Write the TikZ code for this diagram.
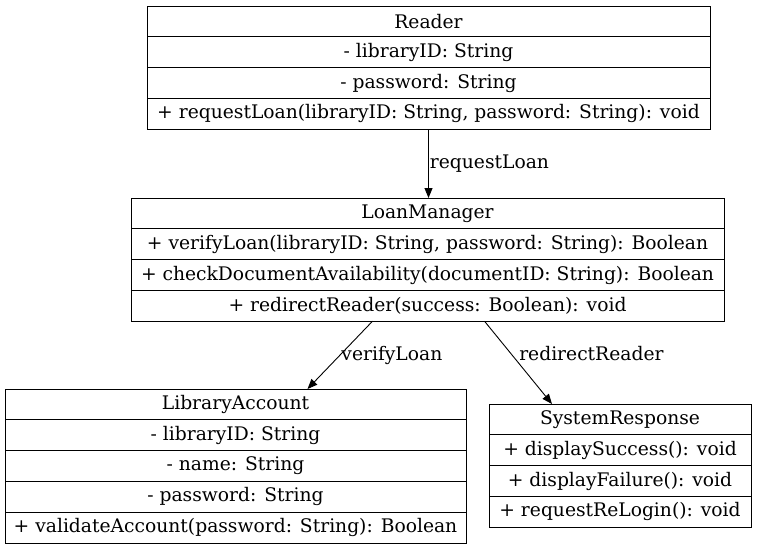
\documentclass[tikz,border=0pt]{standalone}
\usepackage{fontspec}
\setmainfont{DejaVu Serif}
\usetikzlibrary{positioning,arrows.meta}
\begin{document}
\begin{tikzpicture}[x=1pt, y=-1pt, font=\fontsize{18.7}{21}\selectfont,
  row/.style={draw, line width=1pt, minimum height=30.8pt, inner sep=0pt, outer sep=0pt, anchor=north},
  link/.style={-{Triangle[length=10pt,width=8pt]}, line width=0.9pt},
  tag/.style={right, inner sep=1pt}]
  \useasboundingbox (0,0) rectangle (757,549);
  % Reader
  \node[row, minimum width=563pt] (rd1) at (428.5,6) {Reader};
  \node[row, minimum width=563pt, below=0pt of rd1] (rd2) {- libraryID: String};
  \node[row, minimum width=563pt, below=0pt of rd2] (rd3) {- password: String};
  \node[row, minimum width=563pt, below=0pt of rd3] (rd4) {+ requestLoan(libraryID: String, password: String): void};
  % LoanManager
  \node[row, minimum width=593pt] (lm1) at (427.5,198) {LoanManager};
  \node[row, minimum width=593pt, below=0pt of lm1] (lm2) {+ verifyLoan(libraryID: String, password: String): Boolean};
  \node[row, minimum width=593pt, below=0pt of lm2] (lm3) {+ checkDocumentAvailability(documentID: String): Boolean};
  \node[row, minimum width=593pt, below=0pt of lm3] (lm4) {+ redirectReader(success: Boolean): void};
  % LibraryAccount
  \node[row, minimum width=461pt] (la1) at (235.5,389) {LibraryAccount};
  \node[row, minimum width=461pt, below=0pt of la1] (la2) {- libraryID: String};
  \node[row, minimum width=461pt, below=0pt of la2] (la3) {- name: String};
  \node[row, minimum width=461pt, below=0pt of la3] (la4) {- password: String};
  \node[row, minimum width=461pt, below=0pt of la4] (la5) {+ validateAccount(password: String): Boolean};
  % SystemResponse
  \node[row, minimum width=262pt] (sr1) at (620,404) {SystemResponse};
  \node[row, minimum width=262pt, below=0pt of sr1] (sr2) {+ displaySuccess(): void};
  \node[row, minimum width=262pt, below=0pt of sr2] (sr3) {+ displayFailure(): void};
  \node[row, minimum width=262pt, below=0pt of sr3] (sr4) {+ requestReLogin(): void};
  % calls
  \draw[link] (rd4.south) -- (rd4.south |- lm1.north) node[midway, tag] {requestLoan};
  \draw[link] ([xshift=-55pt]lm4.south) -- ([xshift=72pt]la1.north) node[midway, tag] {verifyLoan};
  \draw[link] ([xshift=57pt]lm4.south) -- ([xshift=-68pt]sr1.north) node[pos=0.39, tag, xshift=7pt] {redirectReader};
\end{tikzpicture}
\end{document}
